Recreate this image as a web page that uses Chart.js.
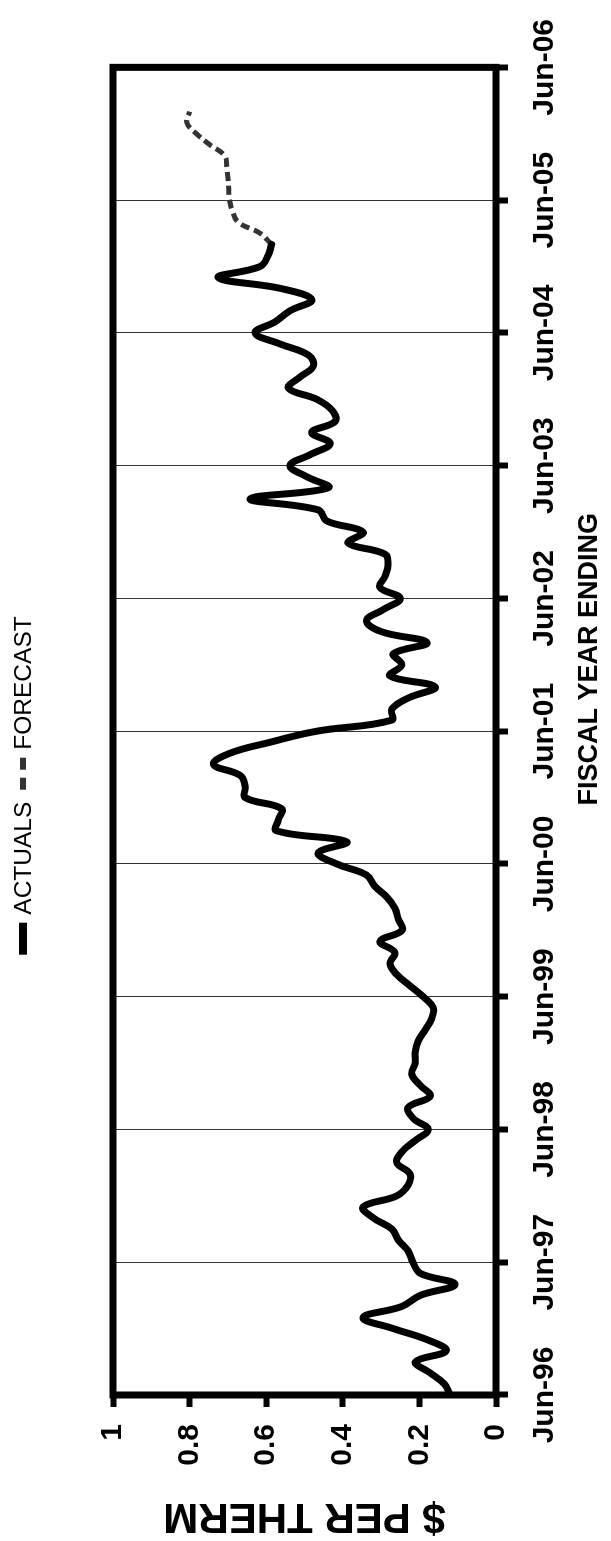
<!DOCTYPE html>
<html>
<head>
<meta charset="utf-8">
<script src="https://cdn.jsdelivr.net/npm/chart.js@4.4.1/dist/chart.umd.min.js"></script>
<style>
  html, body { margin: 0; padding: 0; background: #fff; overflow: hidden; width: 611px; height: 1541px; }
  /* the chart is laid out landscape and turned a quarter turn to stand upright */
  #turn { position: absolute; left: 0; top: 0; width: 1541px; height: 611px;
          transform-origin: 0 0; transform: translate(0, 1541px) rotate(-90deg); }
  canvas { display: block; }
</style>
</head>
<body>
<div id="turn"><canvas id="gas" width="1541" height="611"></canvas></div>
<script>
// fiscal year tick labels, one every 12 months starting Jun-96
const yearLabels = ['Jun-96', 'Jun-97', 'Jun-98', 'Jun-99', 'Jun-00', 'Jun-01',
                    'Jun-02', 'Jun-03', 'Jun-04', 'Jun-05', 'Jun-06'];

// monthly actual cost, $ per therm, month 0 = Jun-96
const actuals = [
  0.120, 0.135, 0.172, 0.210, 0.130, 0.180, 0.268, 0.347, 0.246, 0.198,
  0.107, 0.198, 0.217, 0.229, 0.255, 0.272, 0.320, 0.347, 0.259, 0.229,
  0.225, 0.259, 0.245, 0.211, 0.177, 0.216, 0.229, 0.172, 0.198, 0.220,
  0.211, 0.211, 0.203, 0.185, 0.168, 0.164, 0.190, 0.225, 0.259, 0.277,
  0.264, 0.303, 0.245, 0.255, 0.264, 0.285, 0.317, 0.338, 0.416, 0.464,
  0.390, 0.573, 0.568, 0.560, 0.655, 0.655, 0.668, 0.738, 0.695, 0.590,
  0.468, 0.272, 0.272, 0.229, 0.159, 0.277, 0.246, 0.268, 0.180, 0.300,
  0.338, 0.294, 0.250, 0.303, 0.290, 0.282, 0.290, 0.386, 0.347, 0.442,
  0.464, 0.642, 0.438, 0.494, 0.538, 0.485, 0.433, 0.481, 0.420, 0.428,
  0.468, 0.542, 0.512, 0.477, 0.490, 0.564, 0.629, 0.577, 0.538, 0.481,
  0.560, 0.725, 0.616, 0.595, 0.586
];

// monthly forecast, continuing from the last actual month
const forecastStart = 104;
const forecast = [
  0.586, 0.616, 0.673, 0.688, 0.696, 0.698, 0.700, 0.703, 0.708, 0.747,
  0.782, 0.807, 0.800
];

const xTitle = 'FISCAL YEAR ENDING';
const yTitle = '$ PER THERM';

const toPoints = (vals, start) => vals.map((v, i) => ({ x: start + i, y: v }));

const FONT = '"Liberation Sans", Arial, Helvetica, sans-serif';

// heavy frame around the plot area
const plotFrame = {
  id: 'plotFrame',
  beforeDatasetsDraw(chart) {
    const { ctx, chartArea: a } = chart;
    ctx.save();
    ctx.strokeStyle = '#000';
    ctx.lineWidth = 7;
    ctx.lineJoin = 'miter';
    ctx.strokeRect(a.left, a.top, a.right - a.left, a.bottom - a.top);
    ctx.restore();
  }
};

// category axis title, set a little toward the later years
const xAxisTitle = {
  id: 'xAxisTitle',
  afterDraw(chart) {
    const { ctx, chartArea: a } = chart;
    ctx.save();
    ctx.font = 'bold 27px ' + FONT;
    ctx.fillStyle = '#000';
    ctx.textAlign = 'center';
    ctx.textBaseline = 'middle';
    ctx.fillText(xTitle, (a.left + a.right) / 2 + 72, chart.height - 21);
    ctx.restore();
  }
};

// legend line along the top: line sample followed by its label
const topLegend = {
  id: 'topLegend',
  afterDraw(chart) {
    const ctx = chart.ctx;
    const items = chart.data.datasets;
    const sample = 32, gap = 8, spacing = 12;
    ctx.save();
    ctx.font = '24.5px ' + FONT;
    ctx.textBaseline = 'middle';
    let total = 0;
    items.forEach((d, i) => {
      total += sample + gap + ctx.measureText(d.label).width + (i < items.length - 1 ? spacing : 0);
    });
    let x = chart.width / 2 - total / 2 - 15;
    const y = 23;
    items.forEach(d => {
      ctx.strokeStyle = d.borderColor;
      ctx.lineWidth = d.borderWidth + 1;
      ctx.setLineDash(d.borderDash ? [12, 8] : []);
      ctx.beginPath();
      ctx.moveTo(x, y);
      ctx.lineTo(x + sample, y);
      ctx.stroke();
      ctx.setLineDash([]);
      x += sample + gap;
      ctx.fillStyle = '#000';
      ctx.fillText(d.label, x, y + 1);
      x += ctx.measureText(d.label).width + spacing;
    });
    ctx.restore();
  }
};

new Chart(document.getElementById('gas'), {
  type: 'line',
  data: {
    datasets: [
      {
        label: 'ACTUALS',
        data: toPoints(actuals, 0),
        borderColor: '#000',
        borderWidth: 7,
        tension: 0.4,
        pointRadius: 0,
        borderCapStyle: 'round',
        borderJoinStyle: 'round',
        fill: false
      },
      {
        label: 'FORECAST',
        data: toPoints(forecast, forecastStart),
        borderColor: '#333',
        borderWidth: 5,
        borderDash: [9, 5],
        tension: 0.4,
        pointRadius: 0,
        fill: false
      }
    ]
  },
  options: {
    responsive: false,
    animation: false,
    devicePixelRatio: 1,
    layout: { padding: { top: 113, right: 58, bottom: 0, left: 0 } },
    plugins: { legend: { display: false }, tooltip: { enabled: false } },
    scales: {
      x: {
        type: 'linear',
        min: 0,
        max: 120,
        afterFit: s => { s.height = 115; },
        border: { display: false },
        grid: { color: '#333', lineWidth: 1, tickLength: 12, tickWidth: 6, tickColor: '#000' },
        ticks: {
          stepSize: 12,
          autoSkip: false,
          maxRotation: 0,
          padding: 19,
          color: '#000',
          font: { family: FONT, size: 30, weight: 'bold' },
          callback: v => yearLabels[v / 12]
        },
        title: { display: false }
      },
      y: {
        min: 0,
        max: 1,
        afterFit: s => { s.width = 146; },
        border: { display: false },
        grid: { drawOnChartArea: false, tickLength: 12, tickWidth: 6, tickColor: '#000' },
        ticks: {
          stepSize: 0.2,
          padding: 17,
          color: '#000',
          font: { family: FONT, size: 30, weight: 'bold' },
          callback: v => String(+v.toFixed(1))
        },
        title: {
          display: true,
          text: yTitle,
          color: '#000',
          font: { family: FONT, size: 42, weight: 'bold' },
          padding: { top: 0, bottom: 0 }
        }
      }
    }
  },
  plugins: [plotFrame, xAxisTitle, topLegend]
});
</script>
</body>
</html>
